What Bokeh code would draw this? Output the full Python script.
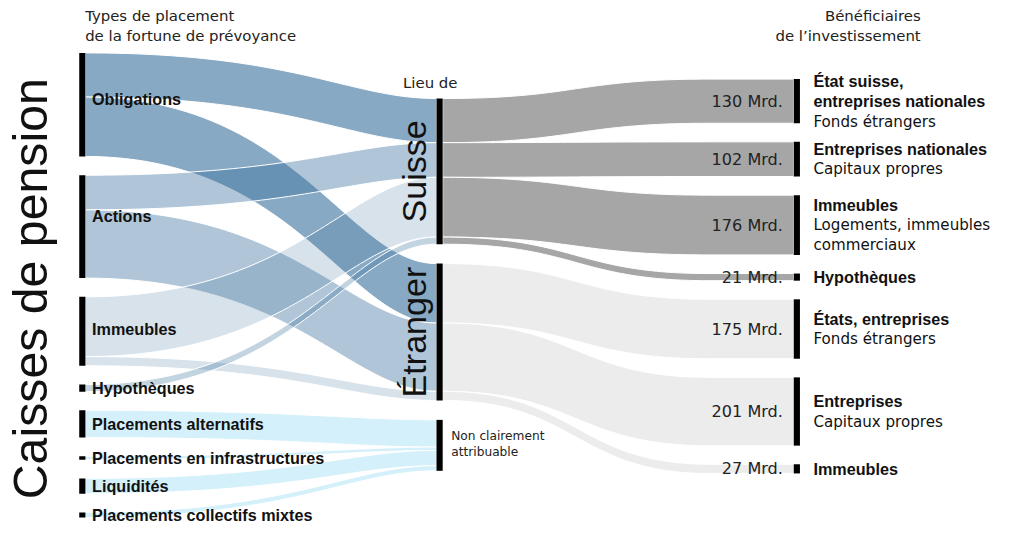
import numpy as np
from bokeh.plotting import figure
from bokeh.models import Range1d
from bokeh.core.properties import value
from bokeh.embed import file_html
from bokeh.resources import INLINE

# ---------------- data (Mrd. CHF) ----------------
asset_types = ["Obligations", "Actions", "Immeubles", "Hypothèques",
               "Placements alternatifs", "Placements en infrastructures",
               "Liquidités", "Placements collectifs mixtes"]
places = ["Suisse", "Étranger", "Non clairement attribuable"]
to_suisse = [130, 102, 176, 21, 0, 0, 0, 0]
to_etranger = [175, 201, 27, 0, 0, 0, 0, 0]
to_unclear = [0, 0, 0, 0, 80, 10, 45, 15]

ben_values = [130, 102, 176, 21, 175, 201, 27]
ben_place = [0, 0, 0, 0, 1, 1, 1]
ben_titles = [["État suisse,", "entreprises nationales"], ["Entreprises nationales"],
              ["Immeubles"], ["Hypothèques"], ["États, entreprises"], ["Entreprises"],
              ["Immeubles"]]
ben_subtitles = [["Fonds étrangers"], ["Capitaux propres"],
                 ["Logements, immeubles", "commerciaux"], [], ["Fonds étrangers"],
                 ["Capitaux propres"], []]

# ---------------- layout / style ----------------
K = 0.35          # layout units per Mrd.
GAP_L, GAP_M, GAP_R = 19.3, 20.0, 19.2
TOP_L, TOP_M, TOP_R = 54.0, 101.0, 81.0
XL, XM, XR, BW = 80.0, 443.0, 806.0, 6.3
REG = "DejaVu Sans"
BOLD = "Liberation Sans"
FS = 0.975        # font scale (canvas is slightly smaller than the layout space)
label_dy = [-6, -11, -2, 0, 0, 0, 0, 0]


def fs(px):
    return f"{px * FS:.2f}px"


flows = [to_suisse, to_etranger, to_unclear]
left_vals = [sum(f[i] for f in flows) for i in range(len(asset_types))]
mid_vals = [sum(f) for f in flows]


def stack(vals, top, gap):
    tops, y = [], top
    for v in vals:
        tops.append(y)
        y += v * K + gap
    return tops


left_tops = stack(left_vals, TOP_L, GAP_L)
mid_tops = stack(mid_vals, TOP_M, GAP_M)
right_tops = stack(ben_values, TOP_R, GAP_R)


def curve(x0, x1, ya, yb, xa, xb, c1, c2, n=60):
    t = np.linspace(0, 1, n)
    px = [xa, xa + c1 * (xb - xa), xb - c2 * (xb - xa), xb]
    bx = ((1 - t) ** 3 * px[0] + 3 * (1 - t) ** 2 * t * px[1]
          + 3 * (1 - t) * t ** 2 * px[2] + t ** 3 * px[3])
    by = (1 - t) ** 3 * ya + 3 * (1 - t) ** 2 * t * ya + 3 * (1 - t) * t ** 2 * yb + t ** 3 * yb
    xs = np.concatenate([[x0], bx, [x1]])
    ys = np.concatenate([[ya], by, [yb]])
    return xs, ys


def band(x0, x1, y0, y1, w, xa, xb, c1, c2):
    tx, ty = curve(x0, x1, y0, y1, xa, xb, c1, c2)
    bx, by = curve(x0, x1, y0 + w, y1 + w, xa, xb, c1, c2)
    return list(np.concatenate([tx, bx[::-1]])), list(np.concatenate([ty, by[::-1]]))


p = figure(width=995, height=523, x_range=Range1d(0, 1011), y_range=Range1d(539, 0),
           output_backend="svg", toolbar_location=None, x_axis_type=None,
           y_axis_type=None, min_border=0)
p.grid.visible = False
p.outline_line_color = None
p.background_fill_color = "white"

# ---- left -> middle links
blue = "#39709d"
src_alpha = [0.6, 0.4, 0.2, 0.3]
mid_off = [0.0, 0.0, 0.0]
lx, ly, lc, la = [], [], [], []
for i in range(len(asset_types)):
    off = 0.0
    for j, f in enumerate(flows):
        v = f[i]
        if v <= 0:
            continue
        w = v * K
        xs, ys = band(XL + BW, XM, left_tops[i] + off, mid_tops[j] + mid_off[j], w,
                      XL + BW, XM, 0.6, 0.25)
        lx.append(xs); ly.append(ys)
        if j < 2:
            lc.append(blue); la.append(src_alpha[i])
        else:
            lc.append("#d3f0fb"); la.append(1.0)
        off += w
        mid_off[j] += w
p.patches(lx, ly, fill_color=lc, fill_alpha=la, line_color="white", line_width=1)

# ---- middle -> right links
place_off = [0.0, 0.0, 0.0]
rx, ry, rc = [], [], []
for b, v in enumerate(ben_values):
    j = ben_place[b]
    w = v * K
    xs, ys = band(XM + BW, XR, mid_tops[j] + place_off[j], right_tops[b], w,
                  XM + BW, 720, 0.5, 0.5)
    rx.append(xs); ry.append(ys)
    rc.append("#a6a6a6" if j == 0 else "#ececec")
    place_off[j] += w
p.patches(rx, ry, fill_color=rc, line_color="white", line_width=1)


# ---- node bars
def bars(x, tops, vals):
    p.quad(left=x, right=x + BW, top=tops, bottom=[t + v * K for t, v in zip(tops, vals)],
           fill_color="black", line_color=None)


bars(XL, left_tops, left_vals)
bars(XM, mid_tops, mid_vals)
bars(XR, right_tops, ben_values)

# ---- left labels
p.text(x=[XL + 13] * len(asset_types),
       y=[t + v * K / 2 + d for t, v, d in zip(left_tops, left_vals, label_dy)],
       text=asset_types, text_font=value(BOLD), text_font_style="bold",
       text_font_size=fs(16.6), text_baseline="middle", text_align="left",
       text_color="#111")

# ---- right labels
LH = 21
tx, ty, tt, sx, sy, st = [], [], [], [], [], []
for b, v in enumerate(ben_values):
    lines = [(s, True) for s in ben_titles[b]] + [(s, False) for s in ben_subtitles[b]]
    c = right_tops[b] + v * K / 2
    n = len(lines)
    for i, (s, bold) in enumerate(lines):
        yy = c + (i - (n - 1) / 2) * LH
        if bold:
            tx.append(XR + 20); ty.append(yy); tt.append(s)
        else:
            sx.append(XR + 20); sy.append(yy); st.append(s)
p.text(x=tx, y=ty, text=tt, text_font=value(BOLD), text_font_style="bold",
       text_font_size=fs(16.6), text_baseline="middle", text_color="#111")
p.text(x=sx, y=sy, text=st, text_font=value(REG), text_font_size=fs(15.5),
       text_baseline="middle", text_color="#111")

# value labels
p.text(x=[XR - 11] * len(ben_values),
       y=[t + v * K / 2 for t, v in zip(right_tops, ben_values)],
       text=[f"{v} Mrd." for v in ben_values], text_font=value(REG),
       text_font_size=fs(16.5), text_align="right", text_baseline="middle",
       text_color="#222")

# ---- headers
p.text(x=[86, 86], y=[16, 37], text=["Types de placement", "de la fortune de prévoyance"],
       text_font=value(REG), text_font_size=fs(15.3), text_baseline="middle",
       text_color="#222")
p.text(x=[935, 935], y=[16, 37], text=["Bénéficiaires", "de l’investissement"],
       text_font=value(REG), text_font_size=fs(15.3), text_baseline="middle",
       text_align="right", text_color="#222")
p.text(x=[409], y=[85], text=["Lieu de"], text_font=value(REG), text_font_size=fs(15.3),
       text_baseline="middle", text_color="#222")
nc_c = mid_tops[2] + mid_vals[2] * K / 2
p.text(x=[XM + 15] * 2, y=[nc_c - 10, nc_c + 7],
       text=["Non clairement", "attribuable"], text_font=value(REG),
       text_font_size=fs(12.5), text_baseline="middle", text_color="#222")

# ---- rotated titles
p.text(x=[30], y=[297], text=["Caisses de pension"], angle=np.pi / 2,
       text_font=value(BOLD), text_font_size=fs(49.5), text_align="center",
       text_baseline="alphabetic", text_color="#111")
p.text(x=[420, 420],
       y=[mid_tops[0] + mid_vals[0] * K / 2, mid_tops[1] + mid_vals[1] * K / 2],
       text=["Suisse", "Étranger"], angle=np.pi / 2, text_font=value(BOLD),
       text_font_size=fs(35), text_align="center", text_baseline="alphabetic",
       text_color="#111")

open("out.html", "w").write(file_html(p, INLINE))
